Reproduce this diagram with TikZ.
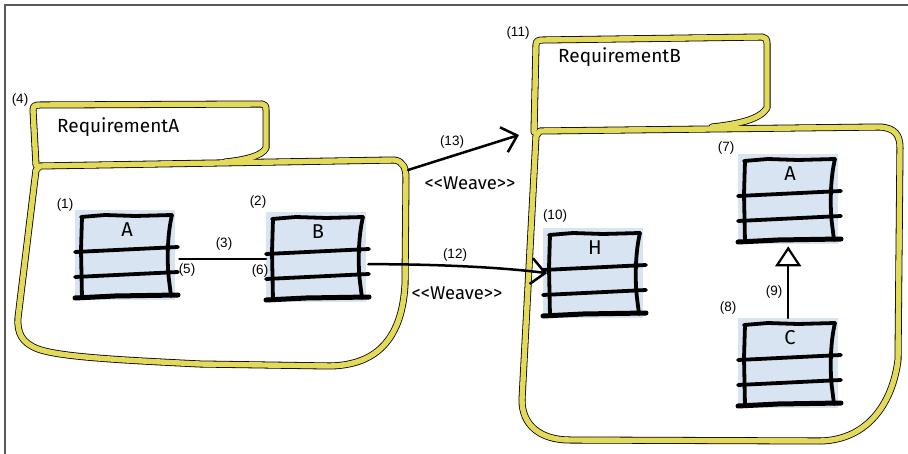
\documentclass[tikz,border=0pt]{standalone}
\usepackage{fontspec}
\setmainfont{Liberation Sans}
\newfontfamily\sketchfont{Fira Sans}
\usetikzlibrary{arrows.meta,calc}
\definecolor{pkgyellow}{RGB}{228,218,90}
\definecolor{classblue}{RGB}{216,228,242}
\definecolor{framegray}{RGB}{90,90,90}
\tikzset{
  pkgline/.style={line width=7pt, draw=black, line join=round, line cap=round},
  pkgfill/.style={line width=5.4pt, draw=pkgyellow, line join=round, line cap=round},
  classbg/.style={fill=classblue, draw=none, minimum width=100pt, minimum height=90pt, inner sep=0pt},
  hand/.style={line width=3.8pt, line cap=round, line join=round},
  handthick/.style={line width=5pt, line cap=round},
  num/.style={font=\fontsize{13.5}{13.5}\selectfont, inner sep=0pt},
  pkgtitle/.style={font=\sketchfont\fontsize{19}{19}\selectfont, inner sep=0pt, anchor=west},
  weave/.style={font=\sketchfont\fontsize{18.5}{18.5}\selectfont, inner sep=0pt},
  cname/.style={font=\sketchfont\fontsize{20}{20}\selectfont, inner sep=0pt},
  conn/.style={line width=2.5pt, line cap=round},
  openarrow/.style={-{Straight Barb[length=14pt,width=26pt,line width=2.5pt]}},
}
\newcommand{\classlines}[2]{%
  \begin{scope}[shift={(#1.north west)}]
    \draw[hand] (6,7) -- (30,5) -- (60,6) -- (97,5);
    \draw[hand] (7,7) -- (6,40) -- (7,88);
    \draw[hand] (97,5) .. controls (92,25) and (92,55) .. (94,70) -- (96,86);
    \draw[hand] (0,42) -- (103,37);
    \draw[hand] (0,67) -- (103,62);
    \draw[handthick] (0,88) -- (40,86) -- (103,85);
    \node[cname] at (52,20) {#2};
  \end{scope}}
\begin{document}
\begin{tikzpicture}[x=1pt,y=-1pt]
\useasboundingbox (0,0) rectangle (908,454);
% frame
\draw[framegray, line width=1.2pt] (5,454) -- (5,5) -- (908,5);

% ---------- Package A ----------
\foreach \s in {pkgline,pkgfill}{
  \draw[\s] (36,165) -- (33,110) .. controls (33,106) and (35,105) .. (40,105) -- (262,104)
     .. controls (265,104) and (266,106) .. (266,110) -- (266,148)
     .. controls (262,156) and (245,160) .. (225,162);
  \draw[\s] (40,166) -- (394,160) .. controls (403,161) and (406,168) .. (406,178)
     -- (405,285) .. controls (402,335) and (380,365) .. (330,366)
     -- (200,364) .. controls (120,360) and (60,357) .. (38,349)
     .. controls (22,343) and (17,333) .. (18,318) -- (36,170) -- cycle;
}
\node[pkgtitle] (titleA) at (57,127) {RequirementA};
\node[num] (n4) at (20,100) {(4)};

% ---------- Package B ----------
\foreach \s in {pkgline,pkgfill}{
  \draw[\s] (534,132) -- (536,45) .. controls (536,41) and (538,40) .. (543,40) -- (762,37)
     .. controls (765,37) and (767,39) .. (767,43) -- (767,108)
     .. controls (760,119) and (740,124) .. (712,127);
  \draw[\s] (540,131) -- (880,127) .. controls (895,128) and (900,135) .. (900,148)
     -- (898,360) .. controls (893,400) and (870,440) .. (820,441)
     -- (570,440) .. controls (540,440) and (522,425) .. (522,400) -- (536,136) -- cycle;
}
\node[pkgtitle] (titleB) at (558,57) {RequirementB};
\node[num] (n11) at (518,33) {(11)};

% ---------- classes ----------
\node[classbg, anchor=north west] (cA1) at (75,210) {};
\classlines{cA1}{A}
\node[num] (n1) at (65,205) {(1)};

\node[classbg, anchor=north west] (cB) at (266,212) {};
\classlines{cB}{B}
\node[num] (n2) at (258,202) {(2)};

\node[classbg, anchor=north west] (cH) at (543,228) {};
\classlines{cH}{H}
\node[num] (n10) at (555,216) {(10)};

\node[classbg, anchor=north west] (cA7) at (738,154) {};
\classlines{cA7}{A}
\node[num] (n7) at (726,148) {(7)};

\node[classbg, anchor=north west] (cC) at (738,318) {};
\classlines{cC}{C}
\node[num] (n8) at (728,308) {(8)};

% ---------- connectors ----------
% (3) association A - B
\draw[conn] ([shift={(4pt,-4pt)}]cA1.east) -- ([yshift=-2pt]cB.west);
\node[num] (n3) at (224,244) {(3)};
\node[num] (n5) at (187,270) {(5)};
\node[num] (n6) at (260,271) {(6)};

% (12) weave B -> H
\draw[conn, openarrow] ([shift={(2pt,-7pt)}]cB.east) .. controls (430,264) and (500,267) .. ([xshift=4pt]cH.west);
\node[num] (n12) at (455,255) {(12)};
\node[weave] (w12) at (457,293) {<<Weave>>};

% (13) weave package A -> package B
\coordinate (pAne) at (408,170);
\coordinate (pBw) at (519,135);
\draw[conn, openarrow] (pAne) -- (pBw);
\node[num] (n13) at (452,142) {(13)};
\node[weave] (w13) at (470,183) {<<Weave>>};

% (9) generalization C -> A
\draw[conn, -{Triangle[open, length=20pt, width=26pt, line width=2.2pt]}] (cC.north) -- ([yshift=-2pt]cA7.south);
\node[num] (n9) at (774,292) {(9)};
\end{tikzpicture}
\end{document}
